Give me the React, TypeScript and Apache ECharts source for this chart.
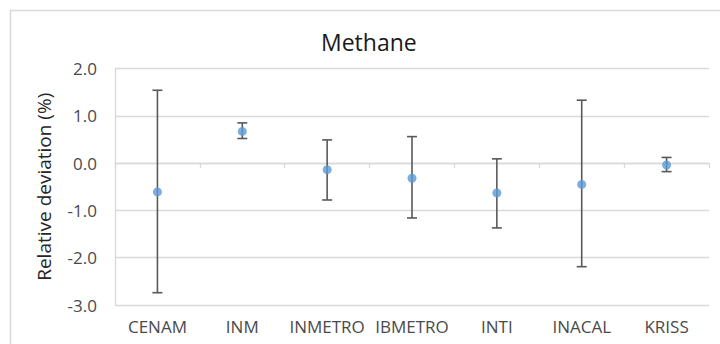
import React, { useEffect, useRef } from "react";
import * as echarts from "echarts";

const categories = ["CENAM", "INM", "INMETRO", "IBMETRO", "INTI", "INACAL", "KRISS"];
const values = [-0.61, 0.67, -0.14, -0.32, -0.63, -0.45, -0.04];
const upper = [1.54, 0.85, 0.49, 0.56, 0.09, 1.33, 0.12];
const lower = [-2.74, 0.52, -0.78, -1.16, -1.37, -2.19, -0.18];
const titleText = "Methane";
const yAxisTitle = "Relative deviation (%)";

const FONT = "'Open Sans', 'Noto Sans', sans-serif";

export default function App() {
  const ref = useRef<HTMLDivElement>(null);
  useEffect(() => {
    if (!ref.current) return;
    const chart = echarts.init(ref.current, null, { renderer: "svg" });
    const errData = categories.map((_, i) => [i, lower[i], upper[i]]);
    chart.setOption({
      animation: false,
      backgroundColor: "#ffffff",
      title: {
        text: titleText,
        left: 321,
        top: 30,
        padding: 0,
        textStyle: { fontFamily: FONT, fontSize: 23, fontWeight: "normal", color: "#1a1a1a" },
      },
      graphic: [
        {
          type: "rect",
          shape: { x: 10.5, y: 10.5, width: 720, height: 340 },
          style: { fill: "none", stroke: "#d9d9d9", lineWidth: 1.5 },
          silent: true,
          z: -1,
        },
      ],
      grid: { left: 115, top: 68.5, right: 11, bottom: 39, containLabel: false },
      xAxis: {
        type: "category",
        data: categories,
        boundaryGap: true,
        axisLine: { show: true, lineStyle: { color: "#d9d9d9", width: 1.3 } },
        axisTick: { show: true, length: 5, lineStyle: { color: "#d9d9d9", width: 1.3 } },
        axisLabel: { fontFamily: FONT, fontSize: 17, color: "#4a4a4a", margin: 13, interval: 0 },
        splitLine: { show: false },
      },
      yAxis: {
        type: "value",
        min: -3,
        max: 2,
        interval: 1,
        name: yAxisTitle,
        nameLocation: "middle",
        nameRotate: 90,
        nameGap: 62,
        nameTextStyle: { fontFamily: FONT, fontSize: 19, color: "#262626" },
        axisLine: { show: true, lineStyle: { color: "#d9d9d9", width: 1.3 } },
        axisTick: { show: false },
        axisLabel: {
          fontFamily: FONT,
          fontSize: 17,
          color: "#4a4a4a",
          margin: 18,
          formatter: (v: number) => v.toFixed(1),
        },
        splitLine: { show: true, lineStyle: { color: "#d9d9d9", width: 1.3 } },
      },
      series: [
        {
          type: "custom",
          z: 2,
          data: errData,
          renderItem: (params: any, api: any) => {
            const x = api.value(0);
            const lo = api.coord([x, api.value(1)]);
            const hi = api.coord([x, api.value(2)]);
            const hw = 5;
            const style = { stroke: "#595959", lineWidth: 1.6 };
            return {
              type: "group",
              children: [
                { type: "line", shape: { x1: lo[0], y1: lo[1], x2: hi[0], y2: hi[1] }, style },
                { type: "line", shape: { x1: lo[0] - hw, y1: lo[1], x2: lo[0] + hw, y2: lo[1] }, style },
                { type: "line", shape: { x1: hi[0] - hw, y1: hi[1], x2: hi[0] + hw, y2: hi[1] }, style },
              ],
            };
          },
        },
        {
          type: "scatter",
          z: 3,
          data: values,
          symbol: "circle",
          symbolSize: 9,
          itemStyle: { color: "#5b9bd5" },
        },
      ],
    });
    return () => chart.dispose();
  }, []);
  return (
    <div
      ref={ref}
      style={{ position: "fixed", left: 0, top: 0, width: 720, height: 344 }}
    />
  );
}
